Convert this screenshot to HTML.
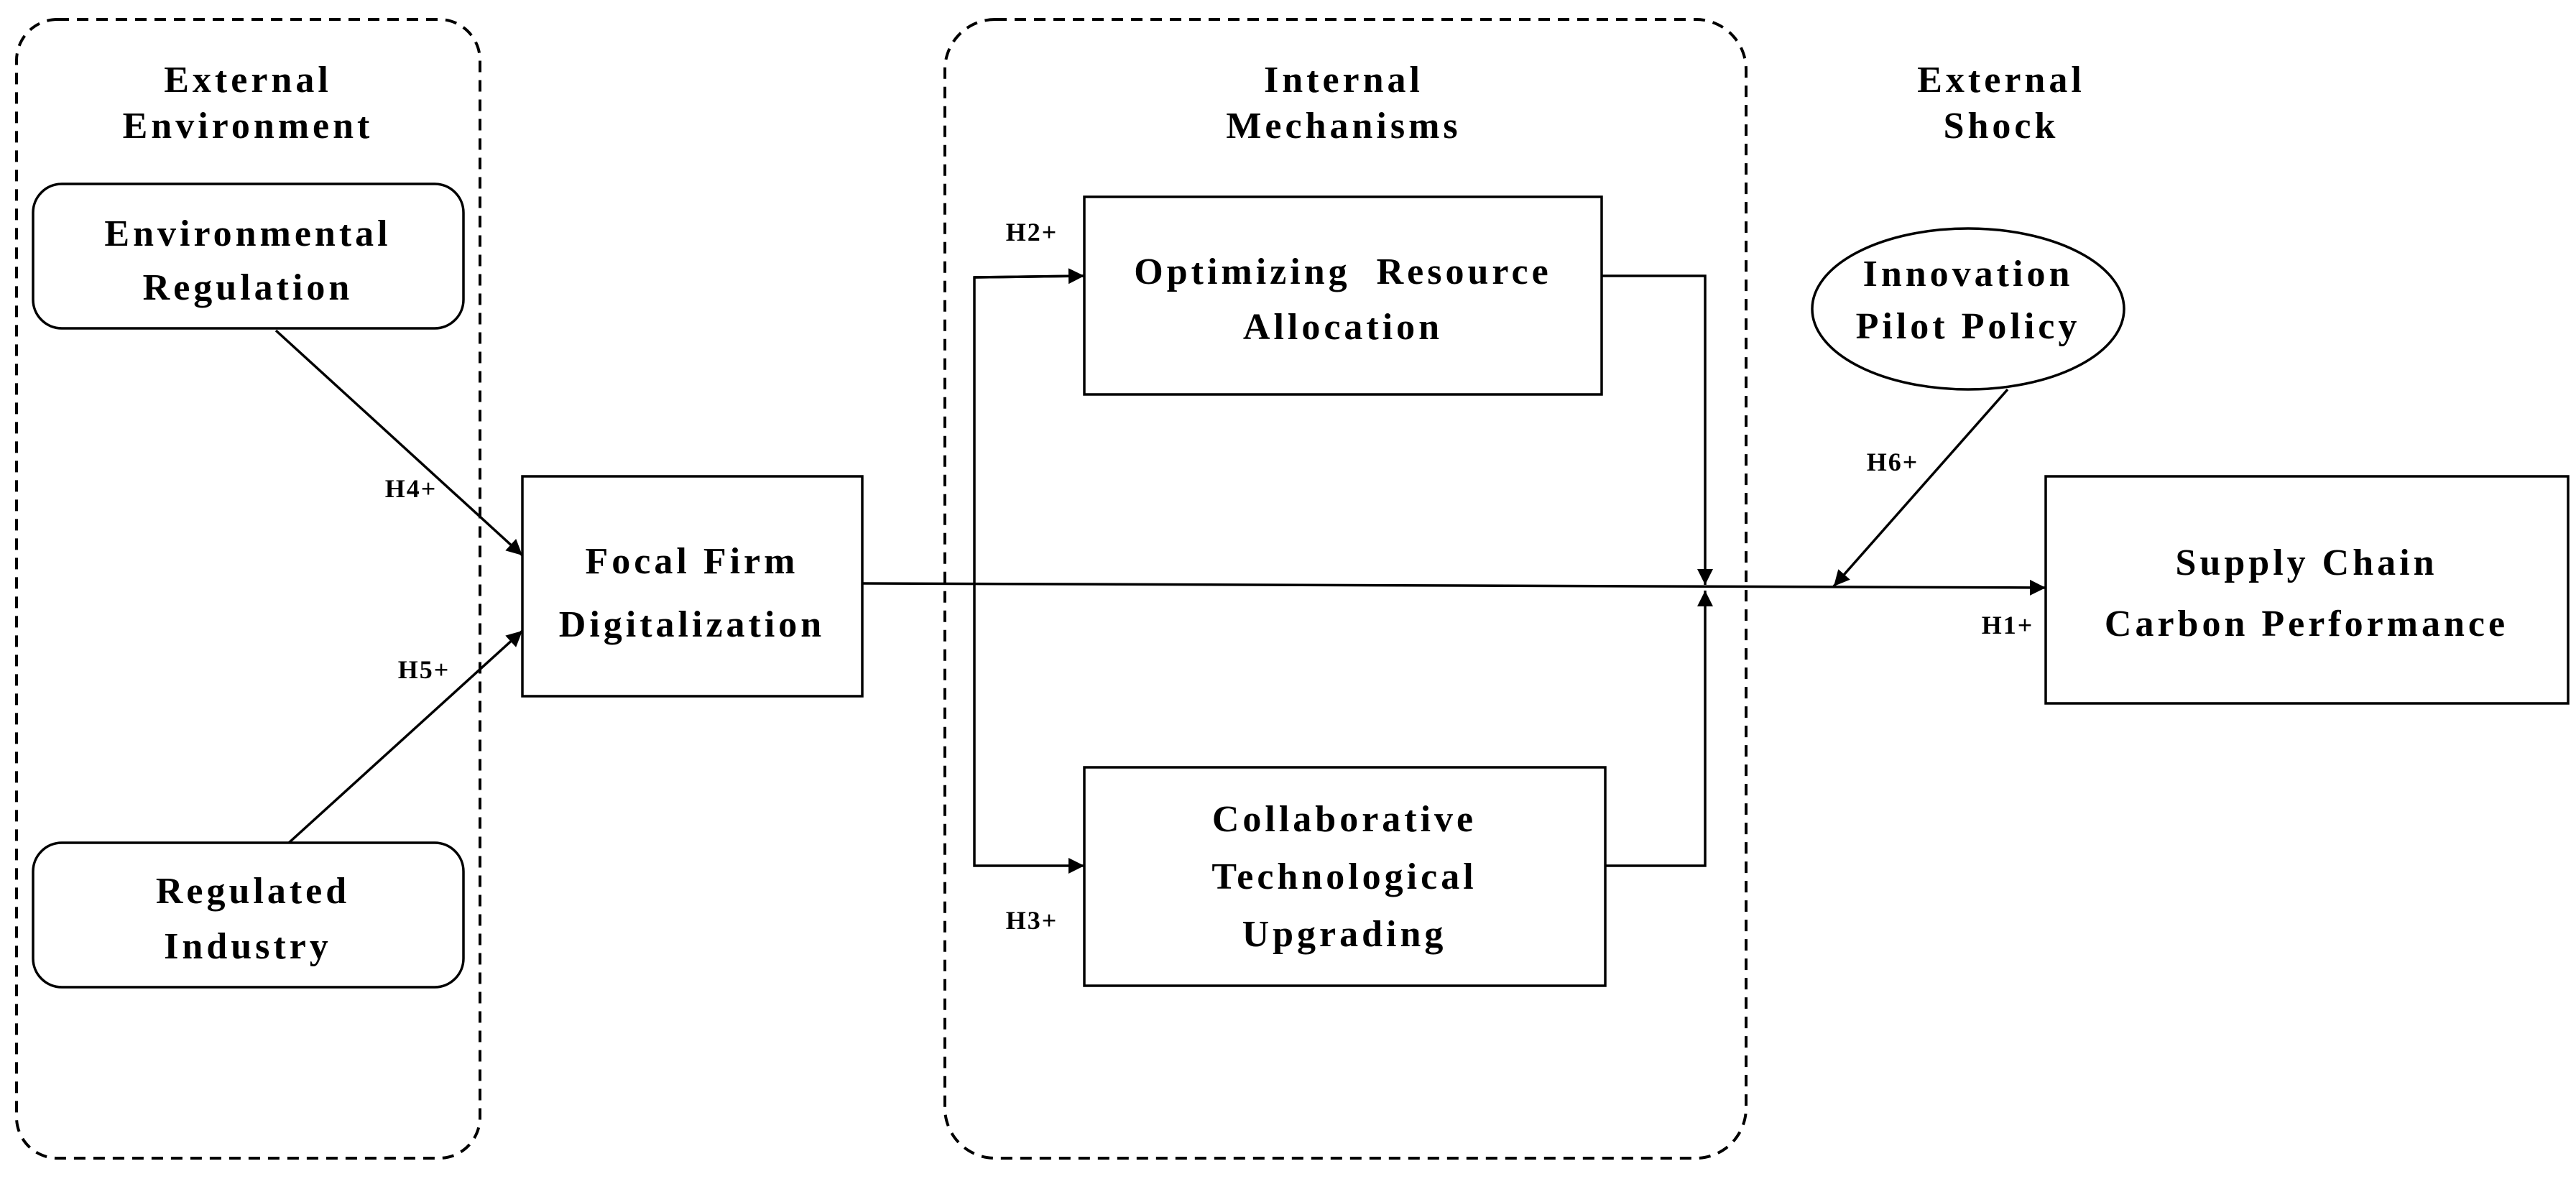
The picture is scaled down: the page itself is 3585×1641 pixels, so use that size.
<!DOCTYPE html>
<html><head><meta charset="utf-8"><style>
html,body{margin:0;padding:0;background:#fff;}
svg{display:block;}
text{font-family:"Liberation Serif",serif;font-weight:bold;fill:#000;text-anchor:middle;}
.t{font-size:52px;letter-spacing:5px;}
.h{font-size:36px;letter-spacing:2px;}
</style></head><body>
<svg width="3585" height="1641" viewBox="0 0 3585 1641" xmlns="http://www.w3.org/2000/svg">
<defs>
<marker id="a" markerWidth="10" markerHeight="10" refX="9" refY="5" orient="auto" markerUnits="userSpaceOnUse" viewBox="0 0 10 10">
</marker>
<marker id="ar" viewBox="0 0 10 10" refX="10" refY="5" markerWidth="26" markerHeight="22" markerUnits="userSpaceOnUse" orient="auto">
<path d="M0,0 L10,5 L0,10 z" fill="#000"/>
</marker>
</defs>
<g fill="none" stroke="#000" stroke-width="4" stroke-dasharray="16,11">
<rect x="23" y="27" width="645" height="1585" rx="57"/>
<rect x="1315" y="27" width="1115" height="1585" rx="70"/>
</g>
<g fill="none" stroke="#000" stroke-width="3.5">
<rect x="46" y="256" width="599" height="201" rx="40"/>
<rect x="46" y="1173" width="599" height="201" rx="40"/>
<rect x="727" y="663" width="473" height="306"/>
<rect x="1509" y="274" width="720" height="275"/>
<rect x="1509" y="1068" width="725" height="304"/>
<rect x="2847" y="663" width="727" height="316"/>
<ellipse cx="2739" cy="430" rx="217" ry="112"/>
</g>
<g fill="none" stroke="#000" stroke-width="3.5">
<line x1="384" y1="460" x2="727" y2="773" marker-end="url(#ar)"/>
<line x1="402" y1="1173" x2="727" y2="878" marker-end="url(#ar)"/>
<line x1="1200" y1="812" x2="2847" y2="818" marker-end="url(#ar)"/>
<polyline points="1509,384 1356,386 1356,1205 1509,1205" marker-end="url(#ar)"/>
<line x1="1356" y1="386" x2="1509" y2="384" marker-end="url(#ar)"/>
<polyline points="2229,384 2373,384 2373,814" marker-end="url(#ar)"/>
<polyline points="2234,1205 2373,1205 2373,822" marker-end="url(#ar)"/>
<line x1="2794" y1="542" x2="2552" y2="816" marker-end="url(#ar)"/>
</g>
<text class="t" x="345" y="128">External</text>
<text class="t" x="345" y="192">Environment</text>
<text class="t" x="1870" y="128">Internal</text>
<text class="t" x="1870" y="192">Mechanisms</text>
<text class="t" x="2785" y="128">External</text>
<text class="t" x="2785" y="192">Shock</text>
<text class="t" x="345" y="342">Environmental</text>
<text class="t" x="345" y="417">Regulation</text>
<text class="t" x="352" y="1257">Regulated</text>
<text class="t" x="345" y="1334">Industry</text>
<text class="t" x="963" y="798">Focal Firm</text>
<text class="t" x="963" y="886">Digitalization</text>
<text class="t" x="1869" y="395" xml:space="preserve">Optimizing  Resource</text>
<text class="t" x="1869" y="472">Allocation</text>
<text class="t" x="1871" y="1157">Collaborative</text>
<text class="t" x="1871" y="1237">Technological</text>
<text class="t" x="1871" y="1317">Upgrading</text>
<text class="t" x="2739" y="398">Innovation</text>
<text class="t" x="2739" y="471">Pilot Policy</text>
<text class="t" x="3210" y="800">Supply Chain</text>
<text class="t" x="3210" y="885">Carbon Performance</text>
<text class="h" x="572" y="692">H4+</text>
<text class="h" x="590" y="944">H5+</text>
<text class="h" x="1436" y="335">H2+</text>
<text class="h" x="1436" y="1293">H3+</text>
<text class="h" x="2634" y="655">H6+</text>
<text class="h" x="2794" y="882">H1+</text>
</svg>
</body></html>
